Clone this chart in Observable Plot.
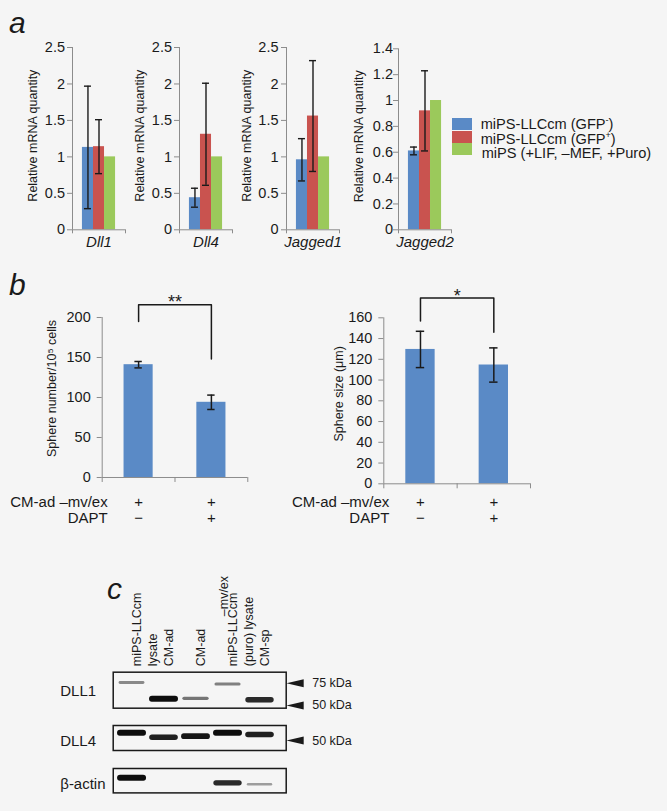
<!DOCTYPE html>
<html><head><meta charset="utf-8">
<script src="https://cdn.jsdelivr.net/npm/d3@7"></script>
<script src="https://cdn.jsdelivr.net/npm/@observablehq/plot@0.6"></script>
<style>
body{margin:0;background:#f5f5f5;}
#fig{position:relative;width:667px;height:811px;background:#f5f5f5;font-family:"Liberation Sans",Arial,Helvetica,sans-serif;overflow:hidden;color:#1a1a1a}
.abs{position:absolute}
.letter{position:absolute;font-style:italic;font-size:30px;line-height:30px}
.sw{position:absolute;width:20px;height:12px}
.lt{position:absolute;font-size:14.6px;line-height:14px;white-space:nowrap}
.lt sup{font-size:9px;vertical-align:6px;line-height:0}
</style></head><body><div id="fig"></div>
<script>
// ---------- data : panel a ----------
const genes = ["Dll1", "Dll4", "Jagged1", "Jagged2"];
const seriesA = ["miPS-LLCcm (GFP⁻)", "miPS-LLCcm (GFP⁺)", "miPS (+LIF, –MEF, +Puro)"];
const colorsA = ["#5a8ac6", "#c9534f", "#9bc95b"];
const gfpNeg = [1.13, 0.44, 0.96, 0.61];
const gfpNegErr = [0.84, 0.13, 0.29, 0.03];
const gfpPos = [1.14, 1.31, 1.56, 0.92];
const gfpPosErr = [0.37, 0.70, 0.76, 0.31];
const mips = [1, 1, 1, 1];
const ticksA = [0, 0.5, 1, 1.5, 2, 2.5];
const ticksJ2 = [0, 0.2, 0.4, 0.6, 0.8, 1, 1.2, 1.4];

// ---------- data : panel b ----------
const treatments = ["CM-ad –mv/ex", "CM-ad –mv/ex + DAPT"];
const rowMvex = ["+", "+"];
const rowDapt = ["−", "+"];
const sphereNumber = [141, 94];
const sphereNumberErr = [4, 9];
const sphereSize = [129.5, 114.5];
const sphereSizeErr = [17.5, 16.5];
const ticksNumber = [0, 50, 100, 150, 200];
const ticksSize = [0, 20, 40, 60, 80, 100, 120, 140, 160];

// ---------- data : panel c (western blot) ----------
const lanes = ["miPS-LLCcm lysate", "CM-ad", "CM-ad –mv/ex", "miPS-LLCcm (puro) lysate", "CM-sp"];
const laneLine1 = ["miPS-LLCcm", "CM-ad", "CM-ad", "miPS-LLCcm", "CM-sp"];
const laneLine2 = ["lysate", "", "–mv/ex", "(puro) lysate", ""];
const dll1Kda = [76, 56.5, 57, 74, 55.5];
const dll1Signal = [0.3, 1, 0.4, 0.35, 0.85];
const dll4Kda = [57.5, 53.1, 54.1, 57.5, 55.8];
const dll4Signal = [1, 0.9, 0.95, 1, 0.9];
const actinKda = [44.7, 0, 0, 40.8, 39.8];
const actinSignal = [1, 0, 0, 0.85, 0.2];
const dll1Markers = [75, 50];
const dll4Markers = [50];

// ---------- helpers ----------
const fig = document.getElementById("fig");
const FONT = "'Liberation Sans', Arial, Helvetica, sans-serif";
const AXIS = "#8c8c8c", INK = "#1a1a1a", BAR = "#5a8ac6";
const baseStyle = {background: "transparent", fontFamily: FONT, fontSize: "14px", color: INK, overflow: "visible", maxWidth: "none"};
function place(node, left, top) {
  const div = document.createElement("div");
  div.className = "abs";
  div.style.left = left + "px";
  div.style.top = top + "px";
  div.appendChild(node);
  fig.appendChild(div);
  return div;
}
function letter(t, left, top) {
  const d = document.createElement("div");
  d.className = "letter"; d.textContent = t;
  d.style.left = left + "px"; d.style.top = top + "px";
  fig.appendChild(d);
}
// y axis: tick lines through Plot's axis, labels as a text mark on the same scale
function yAxisMarks(ticks, labelDx) {
  return [
    Plot.axisY({ticks, label: null, tickSize: 5, tickFormat: () => "", stroke: AXIS}),
    Plot.text(ticks, {y: d => d, frameAnchor: "left", textAnchor: "end", text: d => String(d), dx: labelDx, fontSize: 14.5, fill: INK})
  ];
}

// ---------- panel a ----------
function geneChart(i, yTicks, frameLeft, marginTop, labelDx) {
  const means = [gfpNeg[i], gfpPos[i], mips[i]];
  const errs = [gfpNegErr[i], gfpPosErr[i], null];
  const gapWidth = 1.8, w = 1 / (seriesA.length + gapWidth);
  const rows = seriesA.map((s, k) => {
    const x1 = w * (gapWidth / 2 + k), x2 = x1 + w;
    return {series: s, v: means[k], e: errs[k], x1, x2, xc: (x1 + x2) / 2};
  });
  const withErr = rows.filter(r => r.e != null);
  const W = 135, ML = 72, H = 250, base = 229.3;
  const plot = Plot.plot({
    width: W, height: H, marginLeft: ML, marginRight: W - ML - 53, marginTop, marginBottom: H - base,
    x: {domain: [0, 1], axis: null},
    y: {domain: [0, yTicks[yTicks.length - 1]], axis: null},
    color: {domain: seriesA, range: colorsA},
    style: baseStyle,
    marks: [
      Plot.rect(rows, {x1: "x1", x2: "x2", y1: () => 0, y2: "v", fill: "series"}),
      Plot.ruleX([0], {stroke: AXIS}),
      Plot.ruleY([0], {stroke: AXIS}),
      ...yAxisMarks(yTicks, labelDx),
      Plot.axisX({ticks: [0, 1], label: null, tickSize: 4, tickFormat: () => "", stroke: AXIS}),
      Plot.ruleX(withErr, {x: "xc", y1: d => d.v - d.e, y2: d => d.v + d.e, stroke: INK, strokeWidth: 1.4}),
      Plot.ruleY(withErr, {y: d => d.v + d.e, x1: "xc", x2: "xc", insetLeft: -3.5, insetRight: -3.5, stroke: INK, strokeWidth: 1.4}),
      Plot.ruleY(withErr, {y: d => d.v - d.e, x1: "xc", x2: "xc", insetLeft: -3.5, insetRight: -3.5, stroke: INK, strokeWidth: 1.4}),
      Plot.text([genes[i]], {x: () => 0.5, y: () => 0, text: d => d, dy: 12, fontSize: 15, fontStyle: "italic"}),
      Plot.text(["Relative mRNA quantity"], {frameAnchor: "left", textAnchor: "middle", text: d => d, rotate: -90, dx: -40, dy: -3, fontSize: 12.5})
    ]
  });
  place(plot, frameLeft - ML, 0);
}
geneChart(0, ticksA, 72, 47, -7.5);
geneChart(1, ticksA, 179.3, 47, -7.5);
geneChart(2, ticksA, 286, 47, -8);
geneChart(3, ticksJ2, 397.7, 48.3, -5.5);

// legend
seriesA.forEach((s, k) => {
  const sw = document.createElement("div");
  sw.className = "sw";
  sw.style.left = "451.7px"; sw.style.top = (118.3 + 12.2 * k) + "px";
  sw.style.background = colorsA[k];
  fig.appendChild(sw);
  const t = document.createElement("div");
  t.className = "lt";
  t.style.left = (480.7 + (k === 2 ? 1 : 0)) + "px";
  t.style.top = (117 + 14.5 * k) + "px";
  t.innerHTML = s.replace("⁻", "<sup>-</sup>").replace("⁺", "<sup>+</sup>");
  fig.appendChild(t);
});

// ---------- panel b ----------
function sphereChart(o) {
  const H = (o.basePx - o.top) + 50;
  const yMax = o.yTicks[o.yTicks.length - 1];
  const pts = [
    {x: 0.5, y: o.bracket.from}, {x: 0.5, y: o.bracket.top},
    {x: 1.5, y: o.bracket.top}, {x: 1.5, y: o.bracket.to}
  ];
  const plot = Plot.plot({
    width: o.frameLeft - o.left + o.frameWidth + 20, height: H,
    marginLeft: o.frameLeft - o.left, marginRight: 20,
    marginTop: o.yTopPx - o.top, marginBottom: 50,
    x: {domain: [0, 2], axis: null},
    y: {domain: [0, yMax], axis: null},
    style: baseStyle,
    marks: [
      Plot.rect(treatments, {x1: (d, i) => i + 0.3, x2: (d, i) => i + 0.7, y1: () => 0, y2: (d, i) => o.values[i], fill: BAR}),
      Plot.ruleX([0], {stroke: AXIS}),
      Plot.ruleY([0], {stroke: AXIS}),
      ...yAxisMarks(o.yTicks, -11.5),
      Plot.axisX({ticks: [0, 1, 2], label: null, tickSize: 5, tickFormat: () => "", stroke: AXIS}),
      Plot.ruleX(treatments, {x: (d, i) => i + 0.5, y1: (d, i) => o.values[i] - o.errs[i], y2: (d, i) => o.values[i] + o.errs[i], stroke: INK, strokeWidth: 1.5}),
      Plot.ruleY(treatments, {y: (d, i) => o.values[i] + o.errs[i], x1: (d, i) => i + 0.5, x2: (d, i) => i + 0.5, insetLeft: -o.cap, insetRight: -o.cap, stroke: INK, strokeWidth: 1.5}),
      Plot.ruleY(treatments, {y: (d, i) => o.values[i] - o.errs[i], x1: (d, i) => i + 0.5, x2: (d, i) => i + 0.5, insetLeft: -o.cap, insetRight: -o.cap, stroke: INK, strokeWidth: 1.5}),
      Plot.line(pts, {x: "x", y: "y", stroke: INK, strokeWidth: 1.5}),
      Plot.text([o.stars], {x: () => 1, y: () => o.bracket.top, text: d => d, dy: -2, fontSize: 18}),
      Plot.text([o.title], {frameAnchor: "left", textAnchor: "middle", text: d => d, rotate: -90, dx: o.titleDx, dy: o.titleDy, fontSize: 12.5}),
      Plot.text(rowMvex, {x: (d, i) => i + 0.5, y: () => 0, text: d => d, dy: o.rowDy[0], fontSize: 15}),
      Plot.text(rowDapt, {x: (d, i) => i + 0.5, y: () => 0, text: d => d, dy: o.rowDy[1], fontSize: 15}),
      Plot.text(["CM-ad –mv/ex"], {x: () => 0, y: () => 0, text: d => d, textAnchor: "end", dx: 5.5, dy: o.rowDy[0], fontSize: 15}),
      Plot.text(["DAPT"], {x: () => 0, y: () => 0, text: d => d, textAnchor: "end", dx: 5.5, dy: o.rowDy[1], fontSize: 15})
    ]
  });
  place(plot, o.left, o.top);
}
sphereChart({
  values: sphereNumber, errs: sphereNumberErr, yTicks: ticksNumber, title: "Sphere number/10⁵ cells",
  left: 0, top: 260, frameLeft: 101.7, frameWidth: 145.6, yTopPx: 317, basePx: 477,
  bracket: {top: 216, from: 195, to: 148}, stars: "**", titleDx: -50, titleDy: -9, cap: 3.7, rowDy: [25, 40.7]
});
sphereChart({
  values: sphereSize, errs: sphereSizeErr, yTicks: ticksSize, title: "Sphere size (μm)",
  left: 280, top: 260, frameLeft: 383.3, frameWidth: 146.7, yTopPx: 317.3, basePx: 483.3,
  bracket: {top: 179, from: 157, to: 146}, stars: "*", titleDx: -45, titleDy: -7, cap: 4.2, rowDy: [18.7, 34.4]
});

// ---------- panel c ----------
const arrowSymbol = {draw(ctx) { ctx.moveTo(-8.6, 0); ctx.lineTo(8.6, -4); ctx.lineTo(8.6, 4); ctx.closePath(); }};
function blotStrip(o) {
  const bands = lanes.map((lane, i) => ({lane, kda: o.kda[i], s: o.signal[i]})).filter(d => d.s > 0);
  const H = o.marginTop + o.frameH + 6;
  const marks = [
    Plot.tickY(bands, {x: "lane", y: "kda", stroke: "#0a0a0a", strokeOpacity: d => 0.2 + 0.8 * d.s,
      strokeWidth: d => 1.5 + 4.5 * d.s, strokeLinecap: "round", insetLeft: 3, insetRight: 3}),
    Plot.frame({stroke: INK, strokeWidth: 1.5}),
    Plot.text([o.name], {frameAnchor: "left", text: d => d, textAnchor: "start", dx: -53, dy: o.nameDy, fontSize: 15})
  ];
  if (o.markers.length) {
    marks.push(
      Plot.dot(o.markers, {y: d => d, frameAnchor: "right", dx: 8.9, symbol: arrowSymbol, fill: INK, stroke: "none"}),
      Plot.text(o.markers, {y: d => d, frameAnchor: "right", text: d => `${d} kDa`, textAnchor: "start", dx: 26, fontSize: 12.5})
    );
  }
  if (o.lanesOn) {
    const line2 = lanes.map((lane, i) => ({lane, t: laneLine2[i]})).filter(d => d.t);
    marks.push(
      Plot.text(lanes, {x: d => d, frameAnchor: "top", text: (d, i) => laneLine1[i], rotate: -90, textAnchor: "start", dx: 0, dy: -6, fontSize: 12.5}),
      Plot.text(line2.filter(d => d.lane !== lanes[2]), {x: "lane", frameAnchor: "top", text: "t", rotate: -90, textAnchor: "start", dx: 16, dy: -6, fontSize: 12.5}),
      Plot.text(line2.filter(d => d.lane === lanes[2]), {x: "lane", frameAnchor: "top", text: "t", rotate: -90, textAnchor: "start", dx: 23, dy: -56, fontSize: 12.5})
    );
  }
  const plot = Plot.plot({
    width: 667, height: H, marginLeft: 112.7, marginRight: 667 - 285.7, marginTop: o.marginTop, marginBottom: 6,
    x: {type: "band", domain: lanes, range: [111.9, 278.2], padding: 0.1, axis: null},
    y: {type: "log", domain: o.domain, axis: null},
    opacity: {type: "identity"},
    style: baseStyle,
    marks
  });
  const svg = d3.select(plot);
  const id = "blur" + o.id;
  svg.insert("defs", ":first-child").append("filter").attr("id", id)
    .attr("x", "-10%").attr("y", "-100%").attr("width", "120%").attr("height", "300%")
    .append("feGaussianBlur").attr("stdDeviation", 0.7);
  svg.select('g[aria-label="tick"]').attr("filter", `url(#${id})`);
  place(plot, 0, o.top);
}
blotStrip({id: 1, name: "DLL1", kda: dll1Kda, signal: dll1Signal, domain: [47.6, 91.6], markers: dll1Markers,
  top: 560, marginTop: 111.7, frameH: 36, lanesOn: true, nameDy: 1});
blotStrip({id: 2, name: "DLL4", kda: dll4Kda, signal: dll4Signal, domain: [41.7, 65.7], markers: dll4Markers,
  top: 715, marginTop: 10, frameH: 25, lanesOn: false, nameDy: 3});
blotStrip({id: 3, name: "β-actin", kda: actinKda, signal: actinSignal, domain: [34, 53], markers: [],
  top: 758.3, marginTop: 10, frameH: 24.4, lanesOn: false, nameDy: 3});

// panel letters
letter("a", 9, 7.6);
letter("b", 9, 269.6);
letter("c", 107, 573.6);
</script></body></html>
